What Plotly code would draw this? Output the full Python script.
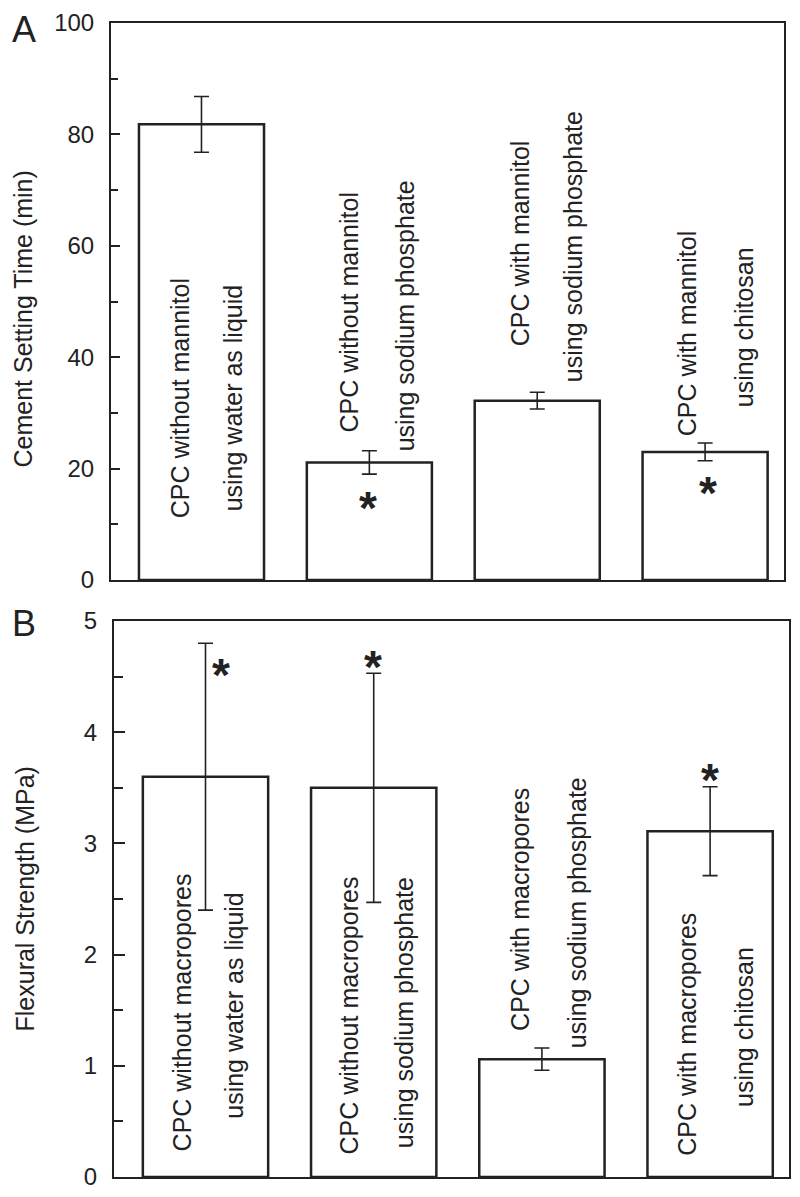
import plotly.graph_objects as go

# ---------------- data ----------------
groups = [0, 1, 2, 3]

labels_a_line1 = ["CPC without mannitol", "CPC without mannitol",
                  "CPC with mannitol", "CPC with mannitol"]
labels_a_line2 = ["using water as liquid", "using sodium phosphate",
                  "using sodium phosphate", "using chitosan"]
setting_time = [81.8, 21.1, 32.2, 23.0]
setting_err = [5.0, 2.1, 1.5, 1.6]
setting_signif = [False, True, False, True]

labels_b_line1 = ["CPC without macropores", "CPC without macropores",
                  "CPC with macropores", "CPC with macropores"]
labels_b_line2 = ["using water as liquid", "using sodium phosphate",
                  "using sodium phosphate", "using chitosan"]
flexural = [3.6, 3.5, 1.06, 3.11]
flexural_err = [1.2, 1.03, 0.10, 0.40]
flexural_signif = [True, True, False, True]

# ---------------- layout helpers ----------------
W, H = 800, 1197
PAGE_OFFSET = 8  # default body margin of the html page
FONT = "Arial, Liberation Sans, Helvetica, sans-serif"
INK = "#222222"

def px_x(p):
    return (p - PAGE_OFFSET) / W

def px_y(p):
    return 1 - (p - PAGE_OFFSET) / H

# label placement (data y of label centre, pixel x-shift from bar centre)
lab_a_y1 = [32.7, 48.1, 60.5, 44.3]
lab_a_y2 = [32.7, 47.4, 59.8, 45.4]
lab_a_dx1 = [-22, -20, -17, -18]
lab_a_dx2 = [31, 36, 36, 39]
ast_a = [(0, 0), (14.8, -1.5), (0, 0), (17.5, 2.5)]

lab_b_y1 = [1.48, 1.45, 2.41, 1.28]
lab_b_y2 = [1.54, 1.48, 2.38, 1.35]
lab_b_dx1 = [-23.5, -25, -22, -23]
lab_b_dx2 = [28.5, 31, 35, 34]
ast_b = [(4.60, 15.5), (4.68, -1), (0, 0), (3.66, -0.5)]

fig = go.Figure()

bar_style = dict(marker=dict(color="white", line=dict(color=INK, width=2.5)),
                 width=0.745, showlegend=False, hoverinfo="skip")

fig.add_trace(go.Bar(x=groups, y=setting_time,
                     error_y=dict(type="data", array=setting_err, color=INK,
                                  thickness=1.6, width=7.5),
                     xaxis="x", yaxis="y", **bar_style))
fig.add_trace(go.Bar(x=groups, y=flexural,
                     error_y=dict(type="data", array=flexural_err, color=INK,
                                  thickness=1.6, width=7.5),
                     xaxis="x2", yaxis="y2", **bar_style))

axis_common = dict(showline=True, linecolor=INK, linewidth=2, mirror=True,
                   showgrid=False, zeroline=False, automargin=False)

fig.update_layout(
    width=W, height=H,
    margin=dict(l=0, r=0, t=0, b=0, pad=0),
    paper_bgcolor="white", plot_bgcolor="white",
    font=dict(family=FONT, color=INK),
    xaxis=dict(domain=[px_x(111), px_x(784)], range=[-0.539, 3.47],
               showticklabels=False, ticks="", anchor="y", **axis_common),
    yaxis=dict(domain=[px_y(580), px_y(23)], range=[0, 100],
               tickvals=[0, 20, 40, 60, 80, 100], ticks="inside", ticklen=9,
               tickwidth=2, tickcolor=INK, tickfont=dict(size=24, color=INK),
               ticklabelstandoff=10,
               minor=dict(tickvals=[10, 30, 50, 70, 90], ticks="inside",
                          ticklen=7, tickwidth=2, tickcolor=INK, showgrid=False),
               anchor="x", **axis_common),
    xaxis2=dict(domain=[px_x(114), px_x(789)], range=[-0.544, 3.469],
                showticklabels=False, ticks="", anchor="y2", **axis_common),
    yaxis2=dict(domain=[px_y(1177), px_y(621)], range=[0, 5],
                tickvals=[0, 1, 2, 3, 4, 5], ticks="inside", ticklen=11,
                tickwidth=2, tickcolor=INK, tickfont=dict(size=24, color=INK),
                ticklabelstandoff=10,
                minor=dict(tickvals=[0.5, 1.5, 2.5, 3.5, 4.5], ticks="inside",
                           ticklen=9, tickwidth=2, tickcolor=INK, showgrid=False),
                anchor="x2", **axis_common),
)

ann = []
TXT = dict(size=25, color=INK, family=FONT)
AST = dict(size=46, color=INK, family=FONT, weight="bold")
for i in groups:
    ann.append(dict(x=i, y=lab_a_y1[i], xref="x", yref="y", text=labels_a_line1[i],
                    textangle=-90, showarrow=False, xshift=lab_a_dx1[i], font=TXT,
                    xanchor="center", yanchor="middle"))
    ann.append(dict(x=i, y=lab_a_y2[i], xref="x", yref="y", text=labels_a_line2[i],
                    textangle=-90, showarrow=False, xshift=lab_a_dx2[i], font=TXT,
                    xanchor="center", yanchor="middle"))
    ann.append(dict(x=i, y=lab_b_y1[i], xref="x2", yref="y2", text=labels_b_line1[i],
                    textangle=-90, showarrow=False, xshift=lab_b_dx1[i], font=TXT,
                    xanchor="center", yanchor="middle"))
    ann.append(dict(x=i, y=lab_b_y2[i], xref="x2", yref="y2", text=labels_b_line2[i],
                    textangle=-90, showarrow=False, xshift=lab_b_dx2[i], font=TXT,
                    xanchor="center", yanchor="middle"))
    if setting_signif[i]:
        ann.append(dict(x=i, y=ast_a[i][0], xref="x", yref="y", text="*",
                        showarrow=False, xshift=ast_a[i][1], yshift=-10,
                        xanchor="center", yanchor="middle", font=AST))
    if flexural_signif[i]:
        ann.append(dict(x=i, y=ast_b[i][0], xref="x2", yref="y2", text="*",
                        showarrow=False, xshift=ast_b[i][1], yshift=-10,
                        xanchor="center", yanchor="middle", font=AST))

# axis titles
ann.append(dict(x=px_x(22.5), y=px_y(319), xref="paper", yref="paper",
                xanchor="center", yanchor="middle",
                text="Cement Setting Time (min)", textangle=-90, showarrow=False,
                font=dict(size=25, color=INK, family=FONT)))
ann.append(dict(x=px_x(24), y=px_y(899.5), xref="paper", yref="paper",
                xanchor="center", yanchor="middle",
                text="Flexural Strength (MPa)", textangle=-90, showarrow=False,
                font=dict(size=25, color=INK, family=FONT)))
# panel letters
ann.append(dict(x=px_x(24), y=px_y(29.5), xref="paper", yref="paper", text="A",
                xanchor="center", yanchor="middle",
                showarrow=False, font=dict(size=36, color=INK, family=FONT)))
ann.append(dict(x=px_x(23.5), y=px_y(623.5), xref="paper", yref="paper", text="B",
                xanchor="center", yanchor="middle",
                showarrow=False, font=dict(size=36, color=INK, family=FONT)))

fig.update_layout(annotations=ann)
fig.write_html("out.html")
